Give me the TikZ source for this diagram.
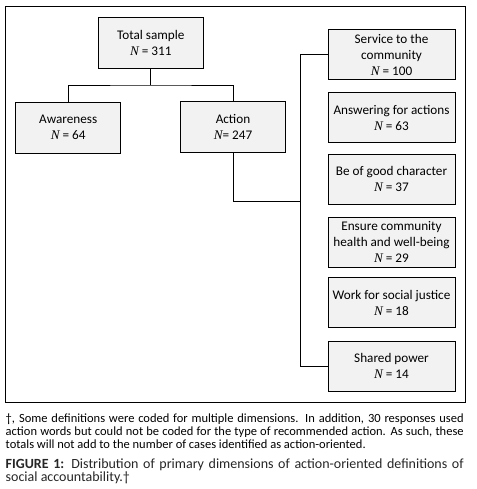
\documentclass[tikz,border=0pt]{standalone}
\usepackage{fontspec}
\setmainfont{Carlito}
\newfontfamily\nfont{Liberation Serif}
\newcommand{\NN}{{\nfont\itshape N}}
\newcommand{\nohyph}{\hyphenpenalty=10000 \exhyphenpenalty=10000 \lefthyphenmin=64 \righthyphenmin=64 \relax}
\definecolor{boxgray}{HTML}{F2F2F2}
\definecolor{captext}{HTML}{262626}
\begin{document}
\begin{tikzpicture}[x=1pt,y=-1pt,
  basebox/.style={draw=black, line width=0.8pt, fill=boxgray, align=center,
    inner sep=0pt, font=\fontsize{13.2}{16}\selectfont},
  lbox/.style={basebox, minimum width=105pt, minimum height=51pt},
  rbox/.style={basebox, minimum width=127pt, minimum height=50pt},
  link/.style={line width=0.8pt},
  frame/.style={line width=0.8pt}]
\useasboundingbox (0,0) rectangle (476,489);
\draw[frame] (5.3,6) rectangle (465.7,402);

\node[lbox] (total)  at (150.8,42.8) {Total sample\\\NN{} = 311};
\node[lbox] (aware)  at (68.2,127.5) {Awareness\\\NN{} = 64};
\node[lbox] (action) at (233,127.3) {Action\\\NN= 247};

\node[rbox] (service) at (391.5,54.5)  {Service to the\\community\\\NN{} = 100};
\node[rbox] (answer)  at (391.5,117.7) {Answering for actions\\\NN{} = 63};
\node[rbox] (good)    at (391.5,179.2) {Be of good character\\\NN{} = 37};
\node[rbox] (ensure)  at (391.5,242.2) {Ensure community\\health and well-being\\\NN{} = 29};
\node[rbox] (work)    at (391.5,302.8) {Work for social justice\\\NN{} = 18};
\node[rbox] (shared)  at (391.5,365.9) {Shared power\\\NN{} = 14};

\coordinate (split) at (150.8,85);
\coordinate (tjoin) at (300.7,201.7);
\draw[link] (total.south) -- (split);
\draw[link] (aware.north) |- (split) -| (action.north);
\draw[link] (action.south) |- (tjoin);
\draw[link] (service.west) -- ++(-27.3,0) coordinate (ttop) |- (shared.west);

\node[anchor=north west, text width=458pt, inner sep=0pt, align=justify,
  font=\fontsize{12.5}{13}\selectfont] (note) at (5.5,414)
  {\nohyph †, Some definitions were coded for multiple dimensions. In addition, 30 responses used action words but could not be coded for the type of recommended action. As such, these totals will not add to the number of cases identified as action-oriented.};
\node[anchor=north west, text width=458pt, inner sep=0pt, align=justify,
  font=\fontsize{14}{12.5}\selectfont, text=captext] (cap) at (5.5,459)
  {\nohyph\textbf{FIGURE 1:} Distribution of primary dimensions of action-oriented definitions of social accountability.†};
\end{tikzpicture}
\end{document}
